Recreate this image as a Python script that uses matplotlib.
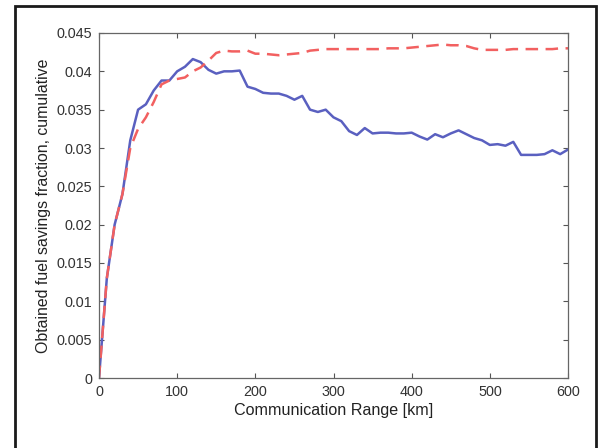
import matplotlib
matplotlib.use("Agg")
import matplotlib.pyplot as plt
from matplotlib.patches import Rectangle

# communication range [km], one sample every 10 km
range_km = list(range(0, 601, 10))

# solid blue series
savings_blue = [
    0.0, 0.013, 0.020, 0.024, 0.031, 0.035, 0.0357, 0.0375, 0.0388, 0.0388,
    0.0400, 0.0406, 0.0416, 0.0412, 0.0402, 0.0397, 0.0400, 0.0400, 0.0401, 0.0380,
    0.0377, 0.0372, 0.0371, 0.0371, 0.0368, 0.0363, 0.0368, 0.0350, 0.0347, 0.0350,
    0.0340, 0.0335, 0.0322, 0.0317, 0.0326, 0.0319, 0.0320, 0.0320, 0.0319, 0.0319,
    0.0320, 0.0315, 0.0311, 0.0318, 0.0314, 0.0319, 0.0323, 0.0318, 0.0313, 0.0310,
    0.0304, 0.0305, 0.0303, 0.0308, 0.0291, 0.0291, 0.0291, 0.0292, 0.0297, 0.0292,
    0.0298,
]

# dashed red series
savings_red = [
    0.0, 0.013, 0.020, 0.024, 0.030, 0.0325, 0.0340, 0.0360, 0.0383, 0.0388,
    0.0390, 0.0392, 0.0400, 0.0405, 0.0414, 0.0424, 0.0427, 0.0426, 0.0426, 0.0427,
    0.0423, 0.0423, 0.0422, 0.0421, 0.0422, 0.0423, 0.0424, 0.0427, 0.0428, 0.0429,
    0.0429, 0.0429, 0.0429, 0.0429, 0.0429, 0.0429, 0.0429, 0.0430, 0.0430, 0.0430,
    0.0431, 0.0432, 0.0433, 0.0434, 0.0435, 0.0434, 0.0434, 0.0433, 0.0430, 0.0428,
    0.0428, 0.0428, 0.0428, 0.0429, 0.0429, 0.0429, 0.0429, 0.0429, 0.0429, 0.0430,
    0.0430,
]

xticks = [0, 100, 200, 300, 400, 500, 600]
yticks = [0, 0.005, 0.01, 0.015, 0.02, 0.025, 0.03, 0.035, 0.04, 0.045]
ytick_labels = ["0", "0.005", "0.01", "0.015", "0.02", "0.025", "0.03", "0.035", "0.04", "0.045"]

plt.rcParams['font.family'] = ['Liberation Sans', 'DejaVu Sans']

fig = plt.figure(figsize=(6.01, 4.48), dpi=100)
fig.patch.set_facecolor("white")

# black frame around the figure (bottom edge is cut off in the reference)
fig.patches.append(Rectangle((15 / 601, -0.05), 581 / 601, 1.05 - 6 / 448,
                             transform=fig.transFigure, fill=False,
                             edgecolor="#1a1a1a", linewidth=2.0))

ax = fig.add_axes([99 / 601, 70 / 448, 469 / 601, 345 / 448])

ax.plot(range_km, savings_blue, color="#5a60c0", linewidth=1.8)
ax.plot(range_km, savings_red, color="#f26060", linewidth=1.8, linestyle=(0, (5, 3)))

ax.set_xlim(0, 600)
ax.set_ylim(0, 0.045)
ax.set_xticks(xticks)
ax.set_yticks(yticks)
ax.set_yticklabels(ytick_labels)

ax.tick_params(direction="in", top=True, right=True, length=3.5, width=0.8,
               colors="#555555", labelcolor="#333333", labelsize=10.4, pad=5)
for sp in ax.spines.values():
    sp.set_color("#666666")
    sp.set_linewidth(0.9)

ax.set_xlabel("Communication Range [km]", fontsize=11.6, color="#222222", labelpad=3)
ax.set_ylabel("Obtained fuel savings fraction, cumulative", fontsize=11.4, color="#222222", labelpad=4)

fig.savefig("out.png", dpi=100)
